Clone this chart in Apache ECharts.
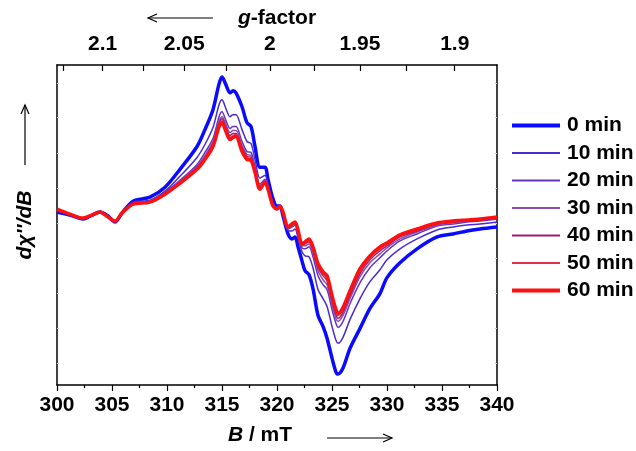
<!DOCTYPE html>
<html>
<head>
<meta charset="utf-8">
<script src="https://cdn.jsdelivr.net/npm/echarts@6/dist/echarts.min.js"></script>
<style>html,body{margin:0;padding:0;background:#fff;}#c{width:636px;height:451px;}</style>
</head>
<body>
<div id="c"></div>
<script>
// Magnetic field (mT)
var fieldB = [300.00,301.18,302.36,303.18,303.91,304.64,305.27,305.91,306.91,308.45,309.82,311.18,312.73,313.45,314.18,314.73,315.00,315.36,315.73,316.00,316.27,316.82,317.27,317.64,318.00,318.45,318.91,319.18,319.64,320.00,320.27,320.55,321.00,321.36,321.64,321.91,322.27,322.55,322.91,323.27,323.73,324.18,324.55,325.00,325.36,325.55,326.00,326.64,327.55,328.45,329.36,330.00,331.18,332.73,334.55,336.00,337.27,338.45,340.00];
// dχ''/dB (arbitrary units)
var min0  = [-1,-4,-8,-4,-1,-5,-11,-2,10,14,24,42,65,82,102,128,135,127,119,121,119,105,89,85,65,44,44,32,12,5,5,-5,-23,-28,-26,-36,-50,-60,-64,-78,-105,-116,-128,-148,-162,-164,-158,-138,-118,-98,-83,-67,-52,-38,-26,-23,-20,-18,-16];
var min10 = [0,-4,-8,-4,-1,-5,-11,-2,9,11,20,35,54,67,84,107,112,103,95,97,97,82,70,68,52,33,36,27,8,4,5,-3,-20,-20,-18,-27,-41,-45,-46,-57,-79,-88,-96,-116,-130,-133,-127,-109,-88,-71,-59,-49,-38,-28,-19,-16,-14,-13,-11];
var min20 = [1,-3,-7,-4,-1,-6,-10,-2,8,10,19,31,47,59,73,95,100,91,83,85,85,70,60,59,45,27,32,24,7,3,5,-2,-18,-16,-14,-23,-37,-38,-36,-46,-65,-74,-79,-99,-113,-117,-111,-93,-72,-57,-47,-40,-30,-23,-15,-13,-11,-10,-8];
var min30 = [2,-3,-7,-4,-1,-6,-10,-2,7,10,18,30,45,56,70,91,95,87,79,81,81,66,57,56,43,25,31,23,6,2,5,-2,-17,-15,-13,-21,-35,-35,-33,-42,-60,-69,-74,-94,-108,-111,-105,-88,-66,-52,-43,-37,-28,-21,-14,-12,-10,-9,-7];
var min40 = [2,-3,-7,-4,-1,-6,-10,-2,7,9,18,29,44,54,68,88,93,84,76,78,78,64,55,54,41,24,30,23,6,2,5,-1,-17,-14,-12,-20,-34,-33,-31,-39,-57,-65,-70,-90,-104,-108,-102,-85,-63,-49,-40,-35,-26,-20,-13,-11,-10,-9,-7];
var min50 = [2,-3,-7,-4,-1,-6,-10,-2,7,9,17,29,43,53,66,87,91,82,74,76,77,62,53,52,40,23,30,22,5,2,5,-1,-16,-14,-12,-20,-34,-32,-29,-38,-55,-63,-67,-87,-101,-105,-99,-82,-60,-47,-38,-33,-25,-19,-13,-10,-9,-8,-6];
var min60 = [2,-3,-7,-4,-1,-6,-10,-2,7,9,17,28,42,52,65,85,89,80,72,74,75,60,52,51,39,22,29,22,5,2,5,-1,-16,-13,-11,-19,-33,-31,-28,-36,-53,-61,-65,-85,-99,-103,-97,-80,-58,-45,-36,-32,-24,-18,-12,-10,-9,-8,-6];

var seriesNames = ['0 min','10 min','20 min','30 min','40 min','50 min','60 min'];
var seriesData = [min0,min10,min20,min30,min40,min50,min60];
var seriesColors = ['#0a0aff','#4a2ad2','#6632c2','#8a4cae','#9c1f6c','#e2304c','#ff1010'];
var seriesWidths = [3.5,1.5,1.5,1.5,1.5,1.5,3.5];

// bottom axis ticks
var bMin = 300, bMax = 340, bStep = 5;
// top axis: g-factor (g * B = const)
var gConst = 638.7;
var gLabels = ['2.1','2.05','2','1.95','1.9'];
var gTicks = [2.125,2.1,2.075,2.05,2.025,2.0,1.975,1.95,1.925,1.9];
// left/right faint tick positions (a.u.)
var yTicks = [129,94,58,23,-12,-47,-83,-118,-153];
var yMin = -175, yMax = 147;

var FONT = 'Liberation Sans, Arial, Helvetica, sans-serif';
var FS = 21;
var chart = echarts.init(document.getElementById('c'), null, {renderer:'canvas'});

var series = seriesNames.map(function(n,i){
  return {
    name:n, type:'line', xAxisIndex:0, yAxisIndex:0,
    data: fieldB.map(function(b,j){return [b, seriesData[i][j]];}),
    showSymbol:false, symbol:'none', smooth:0.3,
    lineStyle:{color:seriesColors[i], width:seriesWidths[i]},
    itemStyle:{color:seriesColors[i]},
    z: 2+i, animation:false
  };
});

var lbl = {color:'#000', fontFamily:FONT, fontWeight:'bold', fontSize:FS};
var richI = {i:{fontStyle:'italic', fontWeight:'bold', fontFamily:FONT, fontSize:FS, color:'#000'}};

var option = {
  animation:false,
  backgroundColor:'#fff',
  grid:{left:57, right:139, top:65, bottom:64, containLabel:false},
  legend:{
    orient:'vertical', left:505, top:110, itemWidth:48, itemHeight:20, itemGap:6.5,
    data: seriesNames.map(function(n,i){
      return {name:n, lineStyle:{width: seriesWidths[i] > 2 ? 4 : 1.8, color:seriesColors[i]}};
    }),
    itemStyle:{opacity:0},
    textStyle:{color:'#000', fontFamily:FONT, fontWeight:'bold', fontSize:FS, padding:[0,0,0,2]}
  },
  xAxis:[{
    type:'value', position:'bottom', min:bMin, max:bMax, interval:bStep,
    axisLine:{show:true, onZero:false, lineStyle:{color:'#000', width:1.5}},
    axisTick:{show:true, inside:false, length:6, lineStyle:{color:'#000', width:1.2}},
    minorTick:{show:true, splitNumber:2, length:3, lineStyle:{color:'#000', width:1.2}},
    axisLabel:Object.assign({margin:10}, lbl),
    splitLine:{show:false},
    name:'{i|B} / mT', nameLocation:'middle', nameGap:40,
    nameTextStyle:{color:'#000', fontFamily:FONT, fontWeight:'bold', fontSize:FS, padding:[0,34,0,0], rich:richI}
  },{
    type:'value', position:'top', min:bMin, max:bMax,
    axisLine:{show:true, onZero:false, lineStyle:{color:'#000', width:1.5}},
    axisTick:{show:true, inside:true, length:6, lineStyle:{color:'#000', width:1.2},
      customValues: gTicks.map(function(g){return gConst/g;}).filter(function(b){return b>=bMin && b<=bMax;})},
    axisLabel:Object.assign({margin:10,
      customValues: gLabels.map(function(s){return gConst/parseFloat(s);}),
      formatter:function(v){
        var g = gConst/v, best = gLabels[0], bd = 1e9;
        gLabels.forEach(function(s){var d=Math.abs(parseFloat(s)-g); if(d<bd){bd=d;best=s;}});
        return best;
      }}, lbl),
    splitLine:{show:false},
    name:'{i|g}-factor', nameLocation:'middle', nameGap:35,
    nameTextStyle:{color:'#000', fontFamily:FONT, fontWeight:'bold', fontSize:FS, rich:richI}
  }],
  yAxis:[{
    type:'value', position:'left', min:yMin, max:yMax,
    axisLine:{show:true, onZero:false, lineStyle:{color:'#000', width:1.5}},
    axisTick:{show:true, inside:true, length:2, lineStyle:{color:'#c8c8c8', width:1}, customValues:yTicks},
    axisLabel:{show:false},
    splitLine:{show:false},
    name:"dχ''/dB", nameLocation:'middle', nameGap:21, nameRotate:90,
    nameTextStyle:{color:'#000', fontFamily:FONT, fontWeight:'bold', fontStyle:'italic', fontSize:FS}
  },{
    type:'value', position:'right', min:yMin, max:yMax,
    axisLine:{show:true, onZero:false, lineStyle:{color:'#000', width:1.5}},
    axisTick:{show:true, inside:true, length:2, lineStyle:{color:'#c8c8c8', width:1}, customValues:yTicks},
    axisLabel:{show:false},
    splitLine:{show:false}
  }],
  graphic:[
    {type:'polyline', shape:{points:[[213,18],[148,18]]}, style:{stroke:'#000', lineWidth:1.2, fill:null}},
    {type:'polyline', shape:{points:[[157,14],[148,18],[157,22]]}, style:{stroke:'#000', lineWidth:1.2, fill:null}},
    {type:'polyline', shape:{points:[[327,438],[392,438]]}, style:{stroke:'#000', lineWidth:1.2, fill:null}},
    {type:'polyline', shape:{points:[[383,434],[392,438],[383,442]]}, style:{stroke:'#000', lineWidth:1.2, fill:null}},
    {type:'polyline', shape:{points:[[25,165],[25,105]]}, style:{stroke:'#000', lineWidth:1.2, fill:null}},
    {type:'polyline', shape:{points:[[21,114],[25,105],[29,114]]}, style:{stroke:'#000', lineWidth:1.2, fill:null}}
  ],
  series: series
};
chart.setOption(option);
</script>
</body>
</html>
